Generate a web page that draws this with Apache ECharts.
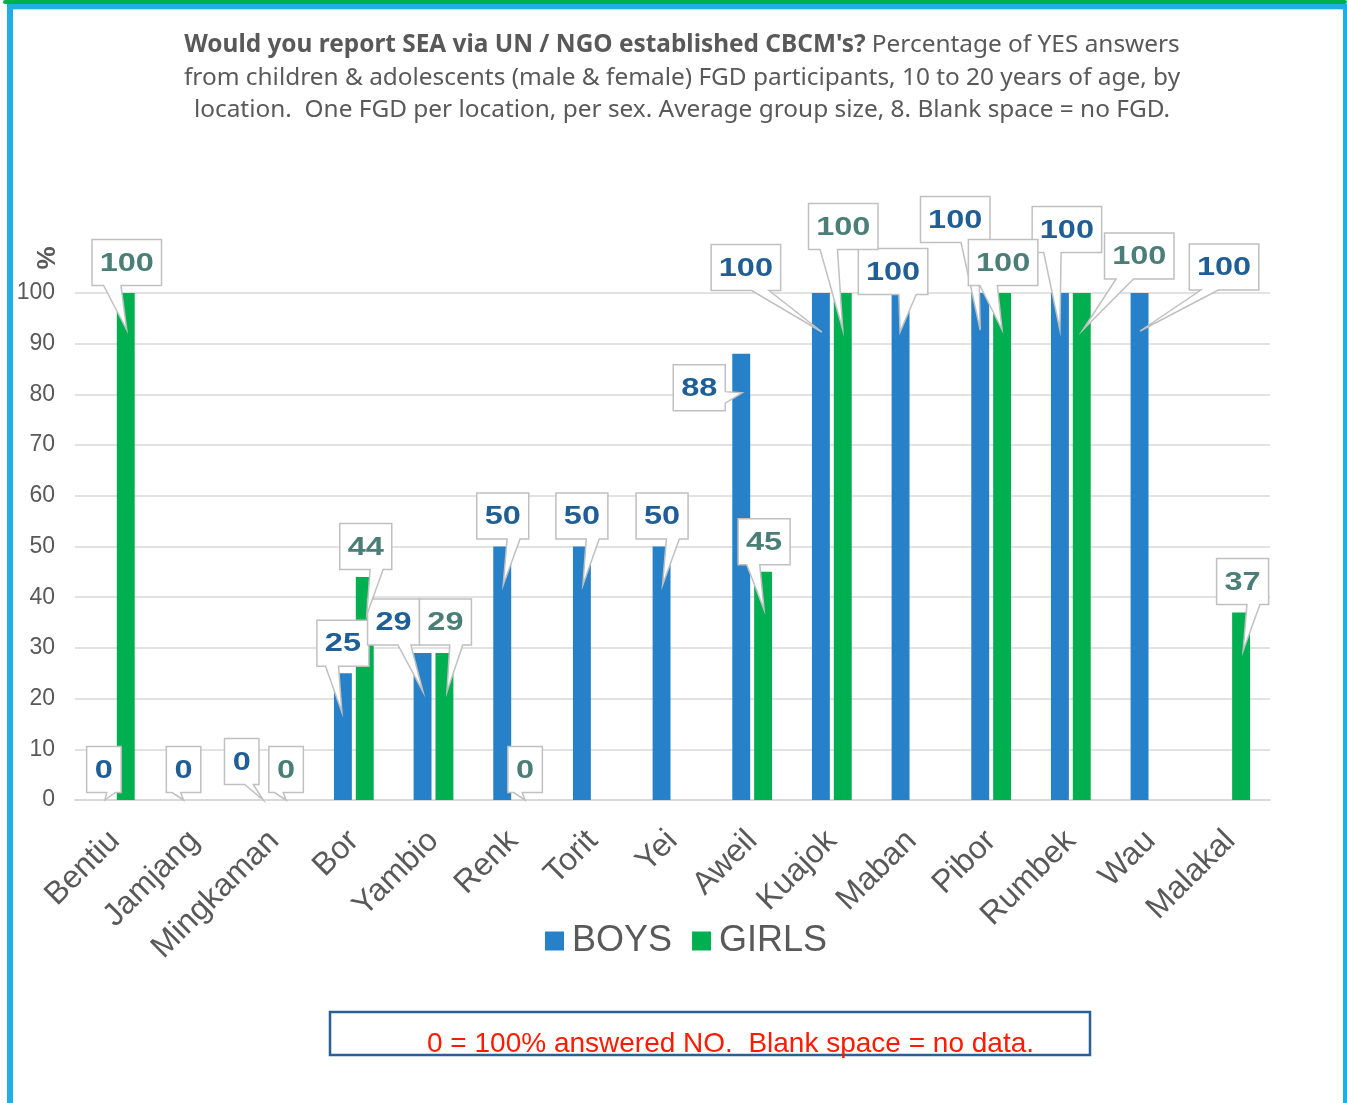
<!DOCTYPE html>
<html>
<head>
<meta charset="utf-8">
<script src="https://cdn.jsdelivr.net/npm/echarts@6/dist/echarts.min.js"></script>
<style>
  html, body { margin: 0; padding: 0; background: #ffffff; }
  #chart { width: 1347px; height: 1103px; }
</style>
</head>
<body>
<div id="chart"></div>
<script>
// Locations surveyed, one FGD per location per sex
const locations = ['Bentiu', 'Jamjang', 'Mingkaman', 'Bor', 'Yambio', 'Renk', 'Torit', 'Yei',
                   'Aweil', 'Kuajok', 'Maban', 'Pibor', 'Rumbek', 'Wau', 'Malakal'];
// % YES answers; null = no FGD held
const boys  = [0, 0, 0, 25, 29, 50, 50, 50, 88, 100, 100, 100, 100, 100, null];
const girls = [100, null, 0, 44, 29, 0, null, null, 45, 100, null, 100, 100, null, 37];
const seriesNames = ['BOYS', 'GIRLS'];
const noteText = '0 = 100% answered NO.  Blank space = no data.';

// Callout placement per bar: [box dx, box dy, tip dx, tip dy] in px from the bar top
const boysCallouts = [
  [0, -30.5, 1, 0], [0, -30.5, 0, 0], [-21.5, -38.5, 0, 0], [0, -30, -1, 39], [-29, -31, 0.5, 39],
  [0.5, -30.5, 1, 38.5], [0, -30.5, 1, 38.5], [0.5, -30.5, 1, 38.5], [-42, 34, 1, 39], [-75, -25.5, 1, 39],
  [-7.5, -21.5, -0.5, 39], [-25, -73.5, 0, 37], [7, -63.5, 0, 37], [84.5, -26, 0.5, 38], null
];
const girlsCallouts = [
  [1, -30.5, 1, 37], null, [1, -30.5, 1, 0], [1, -30.5, 2, 38], [1, -31, 2.5, 39],
  [1, -30.5, 1, 0], null, null, [1, -30, 1, 38], [0.5, -66.5, 0, 37],
  null, [1, -30.5, 0, 37], [57.5, -37, 1, 37], null, [1.5, -31, 2, 38.6]
];

const BAR_FRAC = 0.225;   // bar width as a fraction of the category band
const GAP_FRAC = 0.22;    // gap between the two bars, as a fraction of bar width
const BOYS_COLOR = '#2781c8';
const GIRLS_COLOR = '#00b050';
const LABEL_COLORS = ['#1f5f96', '#4a7e77'];
const GREY = '#595959';

const calloutData = [];
[boys, girls].forEach(function (arr, s) {
  arr.forEach(function (v, i) { if (v !== null) calloutData.push([i, v, s]); });
});

// Rectangle callout with a wedge pointing at the bar (wedge base on the edge facing the tip)
function renderCallout(params, api) {
  const cat = api.value(0), val = api.value(1), s = api.value(2);
  const lay = (s === 0 ? boysCallouts : girlsCallouts)[cat];
  if (!lay) return null;
  const p = api.coord([cat, val]);
  const band = api.size([1, 0])[0];
  const bw = band * BAR_FRAC, gap = bw * GAP_FRAC;
  const x0 = p[0] + (s === 0 ? -1 : 1) * (bw + gap) / 2;
  const y0 = p[1];
  const txt = String(val);
  const w = 17.5 * txt.length + 17, h = 46;
  const cx = x0 + lay[0], cy = y0 + lay[1];
  const tx = x0 + lay[2], ty = y0 + lay[3];
  const l = cx - w / 2, r = cx + w / 2, t = cy - h / 2, b = cy + h / 2;
  const dx = tx - cx, dy = ty - cy;
  const dz = Math.abs(dy) - Math.abs(dx * h / w);
  const xa = l + w * (dx > 0 ? 7 : 2) / 12, xb = l + w * (dx > 0 ? 10 : 5) / 12;
  const ya = t + h * (dy > 0 ? 7 : 2) / 12, yb = t + h * (dy > 0 ? 10 : 5) / 12;
  const pts = [[l, t]];
  if (dz > 0 && dy < 0) pts.push([xa, t], [tx, ty], [xb, t]);
  pts.push([r, t]);
  if (dz <= 0 && dx > 0) pts.push([r, ya], [tx, ty], [r, yb]);
  pts.push([r, b]);
  if (dz > 0 && dy > 0) pts.push([xb, b], [tx, ty], [xa, b]);
  pts.push([l, b]);
  if (dz <= 0 && dx <= 0) pts.push([l, yb], [tx, ty], [l, ya]);
  return {
    type: 'group',
    children: [
      { type: 'polygon', shape: { points: pts },
        style: { fill: '#ffffff', stroke: '#c0c0c0', lineWidth: 1.5 } },
      { type: 'text', x: cx, y: cy + 1, scaleX: 1.25,
        style: { text: txt, x: 0, y: 0, align: 'center', verticalAlign: 'middle',
                 textAlign: 'center', textVerticalAlign: 'middle',
                 font: 'bold 26px "Liberation Sans", Arial, sans-serif', fill: LABEL_COLORS[s] } }
    ]
  };
}

const titleFont = '"Noto Sans", "Open Sans", sans-serif';
function titleLine(text, centerY) {
  return {
    text: text, left: 677, top: centerY - 16, textAlign: 'center',
    textStyle: { fontFamily: titleFont, fontSize: 24.4, lineHeight: 32, color: GREY, fontWeight: 'normal',
      rich: { b: { fontFamily: titleFont, fontSize: 24.4, lineHeight: 32, color: GREY, fontWeight: 'bold' } } }
  };
}

const chart = echarts.init(document.getElementById('chart'), null, { renderer: 'canvas' });
chart.setOption({
  animation: false,
  backgroundColor: '#ffffff',
  title: [
    titleLine("{b|Would you report SEA via UN / NGO established CBCM's?} Percentage of YES answers", 40),
    titleLine('from children & adolescents (male & female) FGD participants, 10 to 20 years of age, by', 73),
    titleLine('location.  One FGD per location, per sex. Average group size, 8. Blank space = no FGD.', 105)
  ],
  legend: {
    data: seriesNames, left: 540, top: 918, icon: 'rect', itemWidth: 19, itemHeight: 19, itemGap: 20,
    textStyle: { fontFamily: '"Liberation Sans", Arial', fontSize: 36, color: GREY, padding: [0, 0, 0, 3] }
  },
  grid: { left: 75, right: 77, top: 293, bottom: 303, containLabel: false },
  xAxis: {
    type: 'category', data: locations,
    axisTick: { show: false },
    axisLine: { lineStyle: { color: '#d9d9d9', width: 2 } },
    axisLabel: { rotate: 45, interval: 0, margin: 36, fontSize: 32, color: GREY,
                 fontFamily: '"Liberation Sans", Arial' }
  },
  yAxis: {
    type: 'value', min: 0, max: 100, interval: 10,
    axisLine: { show: false }, axisTick: { show: false },
    splitLine: { lineStyle: { color: '#d9d9d9', width: 1.5 } },
    axisLabel: { fontSize: 23, color: GREY, margin: 20, fontFamily: '"Liberation Sans", Arial' }
  },
  series: [
    { name: seriesNames[0], type: 'bar', data: boys, barWidth: (BAR_FRAC * 100) + '%',
      barGap: (GAP_FRAC * 100) + '%', itemStyle: { color: BOYS_COLOR }, z: 2 },
    { name: seriesNames[1], type: 'bar', data: girls, barWidth: (BAR_FRAC * 100) + '%',
      barGap: (GAP_FRAC * 100) + '%', itemStyle: { color: GIRLS_COLOR }, z: 2 },
    { type: 'custom', name: 'callouts', data: calloutData, renderItem: renderCallout,
      encode: { x: 0, y: 1 }, clip: false, silent: true, z: 10 }
  ],
  graphic: [
    // frame
    { type: 'rect', shape: { x: 3, y: 0, width: 1344, height: 4, r: 2 }, style: { fill: '#00b050' } },
    { type: 'rect', shape: { x: 7, y: 4, width: 1340, height: 5 }, style: { fill: '#1fafe6' } },
    { type: 'rect', shape: { x: 13, y: 9, width: 1330, height: 1 }, style: { fill: '#b3e4f7' } },
    { type: 'rect', shape: { x: 7, y: 4, width: 6, height: 1099 }, style: { fill: '#1fafe6' } },
    { type: 'rect', shape: { x: 1343, y: 4, width: 4, height: 1099 }, style: { fill: '#1fafe6' } },
    // y axis unit
    { type: 'text', x: 48, y: 258, rotation: Math.PI / 2,
      style: { text: '%', font: 'bold 26px "Liberation Sans", Arial', fill: GREY,
               align: 'center', verticalAlign: 'middle', textAlign: 'center', textVerticalAlign: 'middle' } },
    // footnote
    { type: 'rect', shape: { x: 330, y: 1012, width: 760, height: 43 },
      style: { fill: 'none', stroke: '#2a6099', lineWidth: 2.5 } },
    { type: 'text', x: 427, y: 1058,
      style: { text: noteText, font: '28px "Liberation Sans", Arial', fill: '#ff1a00',
               align: 'left', verticalAlign: 'bottom', textAlign: 'left', textVerticalAlign: 'bottom' } }
  ]
});
</script>
</body>
</html>
